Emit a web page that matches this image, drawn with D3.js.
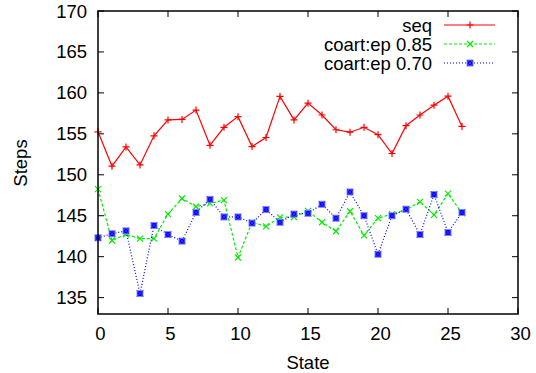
<!DOCTYPE html>
<html>
<head>
<meta charset="utf-8">
<script src="https://cdn.jsdelivr.net/npm/d3@7"></script>
<style>
  body { margin: 0; background: #fff; }
  text { font-family: "Liberation Sans", Arial, sans-serif; fill: #000; }
</style>
</head>
<body>
<svg id="chart" width="536" height="373"></svg>
<script>
// data
var states = [0, 1, 2, 3, 4, 5, 6, 7, 8, 9, 10, 11, 12, 13, 14, 15, 16, 17, 18, 19, 20, 21, 22, 23, 24, 25, 26];
var seq = [155.25, 151.05, 153.4, 151.2, 154.76, 156.7, 156.76, 157.9, 153.6, 155.8, 157.1, 153.45, 154.55, 159.57, 156.7, 158.75,
  157.3, 155.5, 155.2, 155.8, 154.9, 152.6, 156.0, 157.3, 158.5, 159.6, 155.9];
var ep085 = [148.24, 141.97, 142.74, 142.2, 142.2, 145.2, 147.1, 146.1, 146.5, 146.9, 139.9, 144.2, 143.7, 144.8, 144.85, 145.6,
  144.2, 143.1, 145.55, 142.6, 144.7, 145.2, 145.75, 146.7, 145.1, 147.7, 145.3];
var ep070 = [142.3, 142.8, 143.15, 135.5, 143.8, 142.7, 141.9, 145.4, 147.0, 144.85, 144.85, 144.1, 145.75, 144.2, 145.2, 145.3,
  146.4, 144.7, 147.9, 145.0, 140.3, 145.0, 145.8, 142.7, 147.6, 142.95, 145.4];
var xTicks = [0, 5, 10, 15, 20, 25, 30];
var yTicks = [135, 140, 145, 150, 155, 160, 165, 170];
var seriesNames = ['seq', 'coart:ep 0.85', 'coart:ep 0.70'];

(function () {
  var series = [
    { name: seriesNames[0], values: seq, color: '#ff0000', dash: null, marker: 'plus' },
    { name: seriesNames[1], values: ep085, color: '#00ee00', dash: '3,2', marker: 'cross' },
    { name: seriesNames[2], values: ep070, color: '#0000ff', dash: '1,2', marker: 'box' }
  ];

  var svg = d3.select('#chart');
  var mLeft = 98, mRight = 518, mTop = 11, mBottom = 314;
  var fs = '18.5px';

  var x = d3.scaleLinear().domain([0, 30]).range([mLeft, mRight]);
  var y = d3.scaleLinear().domain([133, 170]).range([mBottom, mTop]);

  // ticks (gnuplot style: inward, mirrored)
  var tl = 6;
  var g = svg.append('g').attr('stroke', '#000').attr('stroke-width', 1);
  xTicks.forEach(function (t) {
    g.append('line').attr('x1', x(t)).attr('x2', x(t)).attr('y1', mBottom).attr('y2', mBottom - tl);
    g.append('line').attr('x1', x(t)).attr('x2', x(t)).attr('y1', mTop).attr('y2', mTop + tl);
  });
  yTicks.forEach(function (t) {
    g.append('line').attr('x1', mLeft).attr('x2', mLeft + tl).attr('y1', y(t)).attr('y2', y(t));
    g.append('line').attr('x1', mRight).attr('x2', mRight - tl).attr('y1', y(t)).attr('y2', y(t));
  });

  svg.selectAll('.xl').data(xTicks).enter().append('text')
    .attr('x', d => x(d) + 2.5).attr('y', 340)
    .attr('text-anchor', 'middle').style('font-size', fs).text(d => d);
  svg.selectAll('.yl').data(yTicks).enter().append('text')
    .attr('x', 87).attr('y', d => y(d) + 6.5)
    .attr('text-anchor', 'end').style('font-size', fs).text(d => d);

  svg.append('text').attr('x', 308).attr('y', 369).attr('text-anchor', 'middle')
    .style('font-size', fs).text('State');
  svg.append('text').attr('transform', 'translate(27,163) rotate(-90)').attr('text-anchor', 'middle')
    .style('font-size', fs).text('Steps');

  function drawMarker(sel, kind, color, cx, cy) {
    var s = 3.5;
    if (kind === 'plus') {
      sel.append('path').attr('d', `M${cx - s},${cy}H${cx + s}M${cx},${cy - s}V${cy + s}`)
        .attr('stroke', color).attr('stroke-width', 1.2).attr('fill', 'none');
    } else if (kind === 'cross') {
      sel.append('path').attr('d', `M${cx - 3},${cy - 3}L${cx + 3},${cy + 3}M${cx - 3},${cy + 3}L${cx + 3},${cy - 3}`)
        .attr('stroke', color).attr('stroke-width', 1.2).attr('fill', 'none');
    } else {
      sel.append('rect').attr('x', cx - 3).attr('y', cy - 3).attr('width', 6).attr('height', 6)
        .attr('fill', color).attr('stroke', '#8888ff').attr('stroke-width', 1);
      sel.append('path').attr('d', `M${cx - 3},${cy - 3}L${cx + 3},${cy + 3}M${cx - 3},${cy + 3}L${cx + 3},${cy - 3}`)
        .attr('stroke', '#3333ff').attr('stroke-width', 1).attr('fill', 'none');
    }
  }

  var line = d3.line().x((d, i) => x(states[i])).y(d => y(d));
  series.forEach(function (s) {
    var p = svg.append('path').datum(s.values).attr('d', line)
      .attr('fill', 'none').attr('stroke', s.color).attr('stroke-width', 1.2);
    if (s.dash) p.attr('stroke-dasharray', s.dash);
    var mg = svg.append('g');
    s.values.forEach(function (v, i) { drawMarker(mg, s.marker, s.color, x(states[i]), y(v)); });
  });

  // legend
  series.forEach(function (s, i) {
    var ly = 25 + i * 19;
    svg.append('text').attr('x', 432).attr('y', ly + 6.5).attr('text-anchor', 'end')
      .style('font-size', fs).text(s.name);
    var p = svg.append('line').attr('x1', 444).attr('x2', 495).attr('y1', ly).attr('y2', ly)
      .attr('stroke', s.color).attr('stroke-width', 1.2);
    if (s.dash) p.attr('stroke-dasharray', s.dash);
    drawMarker(svg, s.marker, s.color, 470, ly);
  });

  // border
  svg.append('rect').attr('x', mLeft).attr('y', mTop).attr('width', mRight - mLeft).attr('height', mBottom - mTop)
    .attr('fill', 'none').attr('stroke', '#000').attr('stroke-width', 1.5);
})();
</script>
</body>
</html>
